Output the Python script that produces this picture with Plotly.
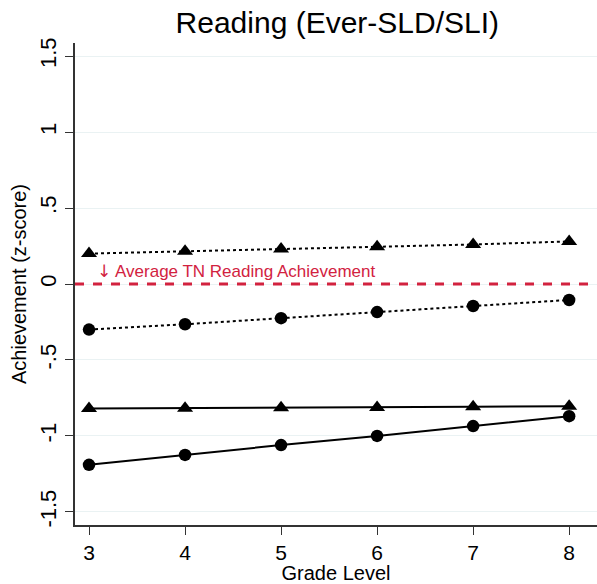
import plotly.graph_objects as go

grades = [3, 4, 5, 6, 7, 8]
dotted_tri = [0.20, 0.215, 0.23, 0.245, 0.26, 0.28]
dotted_circ = [-0.30, -0.265, -0.225, -0.185, -0.145, -0.105]
solid_tri = [-0.82, -0.818, -0.815, -0.812, -0.808, -0.805]
solid_circ = [-1.19, -1.125, -1.06, -1.0, -0.935, -0.87]
y_ticks = [1.5, 1, 0.5, 0, -0.5, -1, -1.5]
y_tick_labels = ["1.5", "1", ".5", "0", "-.5", "-1", "-1.5"]

fig = go.Figure()

def add(y, dash, symbol, size):
    fig.add_trace(go.Scatter(
        x=grades, y=y, mode="lines+markers",
        line=dict(color="black", width=2, dash=dash),
        marker=dict(symbol=symbol, size=size, color="black"),
        showlegend=False))

add(dotted_tri, "dot", "triangle-up", 14)
add(dotted_circ, "dot", "circle", 12.5)
add(solid_tri, "solid", "triangle-up", 14)
add(solid_circ, "solid", "circle", 12.5)

fig.add_shape(type="line", xref="paper", x0=0, x1=1, yref="y", y0=0, y1=0,
              line=dict(color="#D2223F", width=3, dash="dash"))
fig.add_annotation(x=0.038, xref="paper", y=0.085, yref="y", xanchor="left",
                   text="<span style='font-family:DejaVu Sans'>↓</span> Average TN Reading Achievement",
                   showarrow=False,
                   font=dict(color="#D2223F", size=17, family="Liberation Sans"))

fig.update_layout(
    width=597, height=584,
    margin=dict(l=75, r=0, t=43, b=59),
    paper_bgcolor="white", plot_bgcolor="white",
    font=dict(family="Liberation Sans", color="black"),
    title=dict(text="Reading (Ever-SLD/SLI)", x=0.565, xanchor="center", y=0.962,
               yanchor="middle", font=dict(size=30, color="black")),
)
fig.update_xaxes(range=[2.854, 8.29], tickvals=grades, ticks="outside", ticklen=8,
                 tickcolor="#333", showline=True, linecolor="#333", linewidth=1.5,
                 showgrid=False, zeroline=False, tickfont=dict(size=21),
                 title=dict(text="Grade Level", font=dict(size=20), standoff=2))
fig.update_yaxes(range=[-1.586, 1.586], tickvals=y_ticks, ticktext=y_tick_labels,
                 tickangle=-90, ticks="outside", ticklen=8, tickcolor="#333",
                 showline=True, linecolor="#333", linewidth=1.5,
                 showgrid=True, gridcolor="#EAF2F3", gridwidth=1, zeroline=False,
                 tickfont=dict(size=22),
                 title=dict(text="Achievement (z-score)", font=dict(size=20), standoff=4))

fig.write_html("out.html")
